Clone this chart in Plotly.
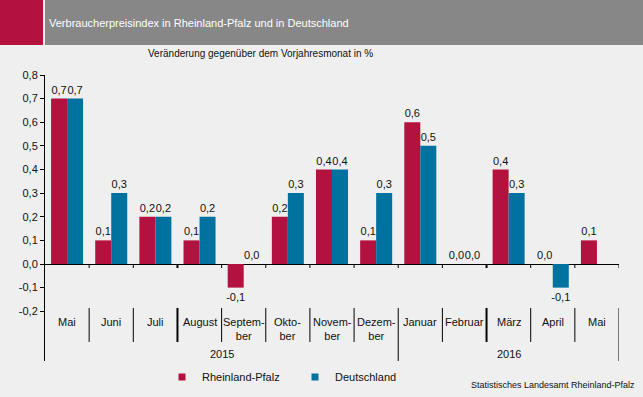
import plotly.graph_objects as go

# ---------------- data ----------------
months = ["Mai", "Juni", "Juli", "August", "Septem-<br>ber", "Okto-<br>ber", "Novem-<br>ber",
          "Dezem-<br>ber", "Januar", "Februar", "März", "April", "Mai"]
years = ["2015"] * 8 + ["2016"] * 5
rlp = [0.7, 0.1, 0.2, 0.1, -0.1, 0.2, 0.4, 0.1, 0.6, 0.0, 0.4, 0.0, 0.1]
de = [0.7, 0.3, 0.2, 0.2, 0.0, 0.3, 0.4, 0.3, 0.5, 0.0, 0.3, -0.1, None]
series_names = ["Rheinland-Pfalz", "Deutschland"]
y_ticks = [-0.2, -0.1, 0.0, 0.1, 0.2, 0.3, 0.4, 0.5, 0.6, 0.7, 0.8]
title = "Verbraucherpreisindex in Rheinland-Pfalz und in Deutschland"
subtitle = "Veränderung gegenüber dem Vorjahresmonat in %"
source = "Statistisches Landesamt Rheinland-Pfalz"

# ---------------- style ----------------
RED = "#b4123e"
BLUE = "#0072a0"
BG = "#eeefee"
FONT = "Liberation Sans, Arial, sans-serif"
W, H = 643, 397
ML, MR, MT, MB = 45, 24, 75, 36


def fmt(v):
    return "" if v is None else f"{v:.1f}".replace(".", ",")


def px(x):
    return (x - ML) / (W - ML - MR)


def py(y):
    return (H - MB - y) / (H - MT - MB)


cats = [f"{m}|{y}" for m, y in zip(months, years)]

fig = go.Figure()
for name, vals, col in [(series_names[0], rlp, RED), (series_names[1], de, BLUE)]:
    fig.add_trace(go.Bar(
        x=cats, y=vals, name=name, marker=dict(color=col, line=dict(width=0)),
        text=[fmt(v) for v in vals], textposition="outside", cliponaxis=False,
        constraintext="none", textfont=dict(family=FONT, size=11, color="#111111"),
        showlegend=False, hoverinfo="skip"))
    fig.add_trace(go.Scatter(
        x=[None], y=[None], mode="markers", name=name,
        marker=dict(symbol="square", size=7, color=col)))

y_lo = -0.4106
shapes = []
# header
shapes.append(dict(type="rect", xref="paper", yref="paper", x0=px(0), x1=px(43), y0=py(45), y1=py(0),
                   fillcolor=RED, line=dict(width=0), layer="below"))
shapes.append(dict(type="rect", xref="paper", yref="paper", x0=px(45), x1=px(643), y0=py(45), y1=py(0),
                   fillcolor="#878787", line=dict(width=0), layer="below"))
n = len(cats)
for i in range(n):
    b = i + 0.5
    thick = i in (2, 9)
    w = 2 if thick else 1
    # tick on zero line
    shapes.append(dict(type="line", xref="x", yref="y", ysizemode="pixel", yanchor=0,
                       x0=b, x1=b, y0=0, y1=-4, line=dict(color="black", width=w)))
    # separator in label area
    long = (i == 7) or (i == n - 1)
    shapes.append(dict(type="line", xref="x", yref="y", x0=b, x1=b, y0=-0.186,
                       y1=(y_lo if long else -0.33), line=dict(color="black", width=w)))

annotations = []
for c, m in zip(cats, months):
    annotations.append(dict(x=c, y=-0.2112, xref="x", yref="y", text=m, showarrow=False,
                            yanchor="top", font=dict(family=FONT, size=11, color="#111111")))
annotations.append(dict(x=3.5, y=-0.381, xref="x", yref="y", text=years[0], showarrow=False,
                        yanchor="middle", font=dict(family=FONT, size=11, color="#111111")))
annotations.append(dict(x=10, y=-0.381, xref="x", yref="y", text=years[-1], showarrow=False,
                        yanchor="middle", font=dict(family=FONT, size=11, color="#111111")))
annotations.append(dict(x=px(47), y=py(23), xref="paper", yref="paper", text=title, showarrow=False,
                        xanchor="left", yanchor="middle", font=dict(family=FONT, size=11, color="white")))
annotations.append(dict(x=px(260), y=py(53), xref="paper", yref="paper", text=subtitle, showarrow=False,
                        xanchor="center", yanchor="middle", font=dict(family=FONT, size=10, color="#111111")))
annotations.append(dict(x=px(637), y=py(385), xref="paper", yref="paper", text=source, showarrow=False,
                        xanchor="right", yanchor="middle", font=dict(family=FONT, size=9, color="#111111")))

fig.update_layout(
    width=W, height=H, margin=dict(l=ML, r=MR, t=MT, b=MB, pad=0, autoexpand=False),
    paper_bgcolor=BG, plot_bgcolor=BG,
    barmode="group", bargap=0.275, bargroupgap=0,
    font=dict(family=FONT, size=11, color="#111111"),
    showlegend=True,
    legend=dict(orientation="h", x=px(162), y=py(377), xref="paper", yref="paper",
                yanchor="middle", xanchor="left", bgcolor="rgba(0,0,0,0)",
                itemwidth=30, entrywidth=88, entrywidthmode="pixels",
                font=dict(family=FONT, size=11, color="#111111")),
    xaxis=dict(type="category", categoryorder="array", categoryarray=cats,
               showticklabels=False, showline=False, ticks="", showgrid=False,
               zeroline=False, range=[-0.5, n - 0.5], fixedrange=True),
    yaxis=dict(range=[y_lo, 0.8], tickvals=y_ticks, ticktext=[fmt(v) for v in y_ticks],
               showline=True, linecolor="black", linewidth=1, ticks="outside", ticklen=4,
               tickcolor="black", showgrid=False, zeroline=True, zerolinecolor="black",
               zerolinewidth=1, tickfont=dict(family=FONT, size=11, color="#111111"),
               fixedrange=True),
    shapes=shapes, annotations=annotations,
)

fig.write_html("out.html", config={"displayModeBar": False},
               post_script="document.body.style.margin='0';document.body.style.padding='0';")
